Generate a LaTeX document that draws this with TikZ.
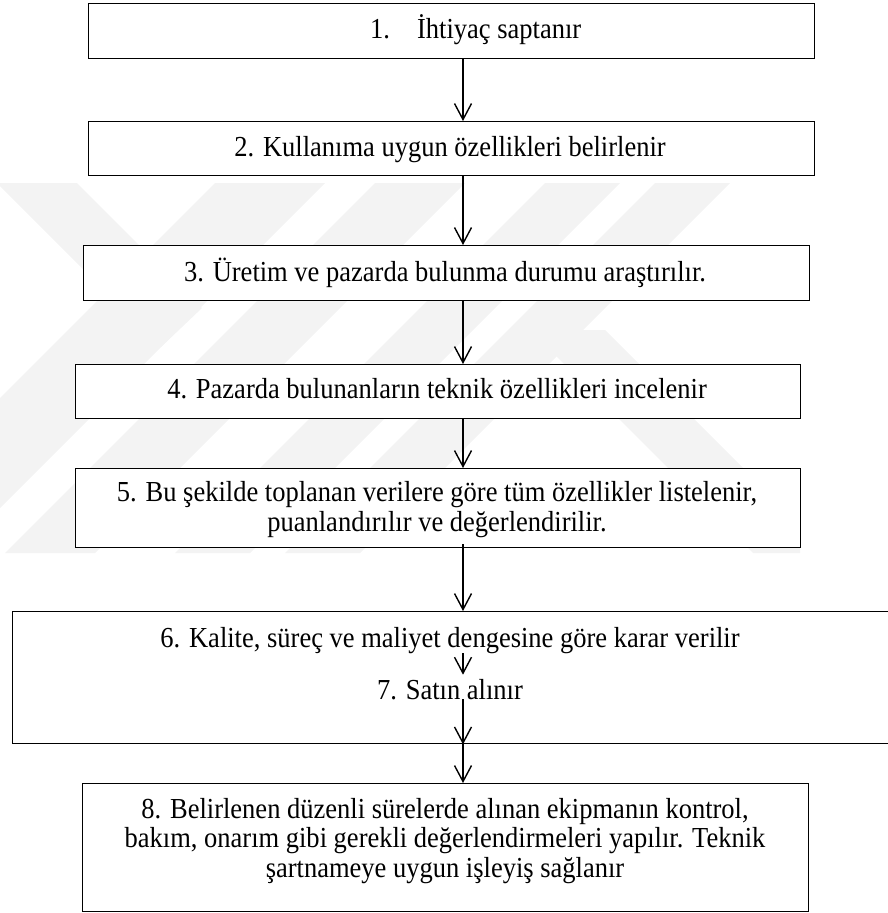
\documentclass[tikz,border=0pt]{standalone}
\usepackage{fontspec}
\setmainfont{Liberation Serif}[FakeStretch=0.914]
\usetikzlibrary{arrows.meta}
\definecolor{wm}{RGB}{243,243,243}
\begin{document}
\begin{tikzpicture}[x=1pt,y=1pt,
  box/.style={draw=black, line width=1.4pt, fill=white, rectangle, inner sep=0pt},
  txt/.style={inner sep=0pt, font=\fontsize{29}{29.5}\selectfont, align=center, anchor=base},
  arr/.style={line width=1.4pt, -{Straight Barb[length=16pt,width=17pt]}},
  wmark/.style={fill=wm, draw=none}]
\useasboundingbox (0,0) rectangle (887,-913);
% faint watermark
\begin{scope}
\clip (0,-183) rectangle (800,-553);
\fill[wmark] (-3,-183) -- (77,-183) -- (202,-308) -- (161,-347) -- cycle;
\fill[wmark] (215,-183) -- (325,-183) -- (-45,-553) -- (-155,-553) -- cycle;
\fill[wmark] (375,-183) -- (465,-183) -- (95,-553) -- (5,-553) -- cycle;
\fill[wmark] (545,-183) -- (620,-183) -- (250,-553) -- (175,-553) -- cycle;
\fill[wmark] (655,-183) -- (730,-183) -- (360,-553) -- (285,-553) -- cycle;
\fill[wmark] (530,-330) -- (605,-330) -- (828,-553) -- (753,-553) -- cycle;
\end{scope}
% boxes
\node[box, anchor=north west, minimum width=726pt, minimum height=55pt] (b1) at (88,-3) {};
\node[box, anchor=north west, minimum width=726pt, minimum height=54pt] (b2) at (88,-121) {};
\node[box, anchor=north west, minimum width=726pt, minimum height=55pt] (b3) at (83,-245) {};
\node[box, anchor=north west, minimum width=725pt, minimum height=54pt] (b4) at (75,-364) {};
\node[box, anchor=north west, minimum width=725pt, minimum height=79pt] (b5) at (75,-468) {};
\node[box, anchor=north west, minimum width=880pt, minimum height=132pt] (b6) at (12,-611) {};
\node[box, anchor=north west, minimum width=726pt, minimum height=128pt] (b8) at (82,-783) {};
% texts
\node[txt, anchor=base west] (t1) at (370,-38.5) {1.\hspace{27pt}İhtiyaç saptanır};
\node[txt] (t2) at (450,-156) {2. Kullanıma uygun özellikleri belirlenir};
\node[txt] (t3) at (445,-281) {3. Üretim ve pazarda bulunma durumu araştırılır.};
\node[txt] (t4) at (437,-398) {4. Pazarda bulunanların teknik özellikleri incelenir};
\node[txt] (t5) at (437,-531) {5. Bu şekilde toplanan verilere göre tüm özellikler listelenir,\\ puanlandırılır ve değerlendirilir.};
\node[txt] (t6) at (450,-647) {6. Kalite, süreç ve maliyet dengesine göre karar verilir};
\node[txt] (t7) at (450,-699) {7. Satın alınır};
\node[txt] (t8) at (445,-877) {8. Belirlenen düzenli sürelerde alınan ekipmanın kontrol,\\ bakım, onarım gibi gerekli değerlendirmeleri yapılır. Teknik\\ şartnameye uygun işleyiş sağlanır};
% arrows
\coordinate (ax) at (463,0);
\draw[arr] (b1.south -| ax) -- (b2.north -| ax);
\draw[arr] (b2.south -| ax) -- (b3.north -| ax);
\draw[arr] (b3.south -| ax) -- (b4.north -| ax);
\draw[arr] (b4.south -| ax) -- (b5.north -| ax);
\draw[arr] ([yshift=4pt]b5.south -| ax) -- (b6.north -| ax);
\draw[arr, shorten >=4pt] (t6.south -| ax) -- (t7.north -| ax);
\draw[arr] (t7.base -| ax) -- (b6.south -| ax);
\draw[arr] (b6.south -| ax) -- (b8.north -| ax);
\end{tikzpicture}
\end{document}
